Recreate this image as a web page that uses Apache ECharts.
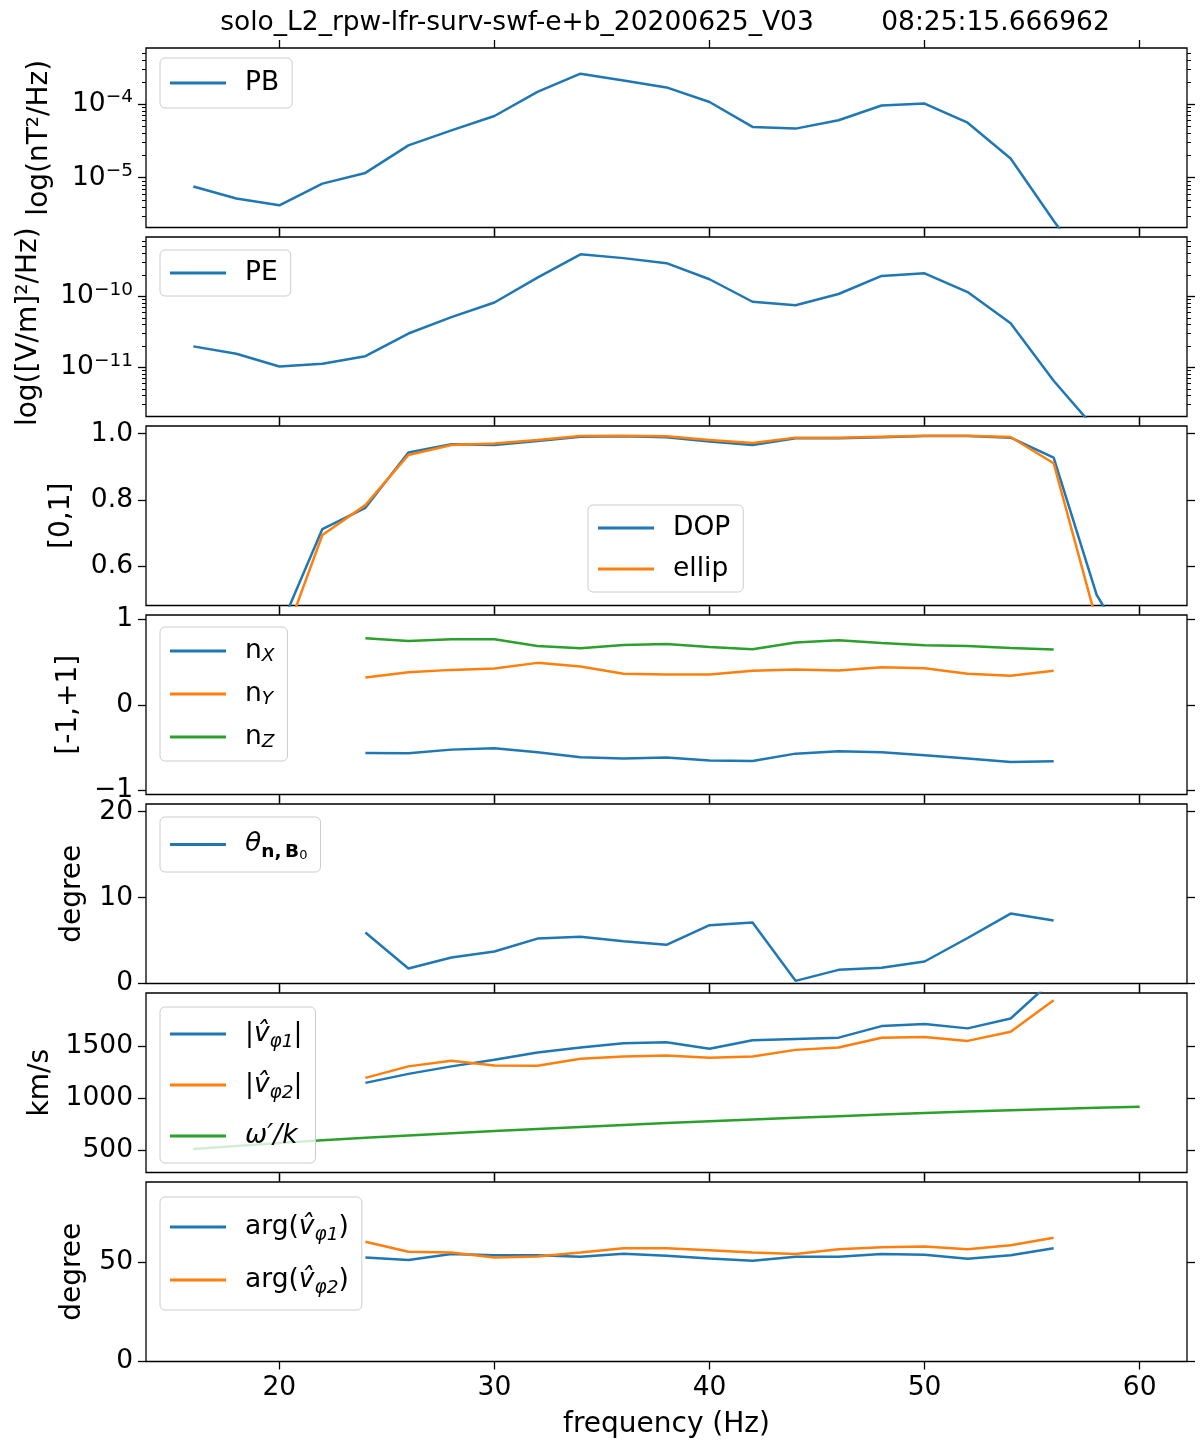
<!DOCTYPE html>
<html>
<head>
<meta charset="utf-8">
<script src="https://cdn.jsdelivr.net/npm/echarts@6/dist/echarts.min.js"></script>
<style>
  html, body { margin: 0; background: #fff; }
  #chart { width: 1200px; height: 1450px; }
</style>
</head>
<body>
<div id="chart"></div>
<script>
// frequency bins (Hz)
const freq = [16, 18, 20, 22, 24, 26, 28, 30, 32, 34, 36, 38, 40, 42, 44, 46, 48, 50, 52, 54, 56, 58, 60];
const freqFit = [24, 26, 28, 30, 32, 34, 36, 38, 40, 42, 44, 46, 48, 50, 52, 54, 56];

// spectra
const pbPower = [7.6e-6, 5.2e-6, 4.2e-6, 8.3e-6, 1.16e-5, 2.75e-5, 4.4e-5, 6.9e-5, 1.47e-4, 2.6e-4, 2.1e-4, 1.69e-4,
  1.07e-4, 4.9e-5, 4.65e-5, 6.05e-5, 9.6e-5, 1.02e-4, 5.6e-5, 1.82e-5, 2.6e-6, 4e-7, 2e-7];
const pePower = [1.98e-11, 1.56e-11, 1.03e-11, 1.13e-11, 1.44e-11, 3.0e-11, 5.1e-11, 8.2e-11, 1.83e-10, 3.9e-10, 3.45e-10,
  2.93e-10, 1.74e-10, 8.4e-11, 7.5e-11, 1.08e-10, 1.94e-10, 2.11e-10, 1.15e-10, 4.2e-11, 6.5e-12, 1.3e-12, 8e-13];

// polarisation
const dop = [0.3, 0.35, 0.41, 0.713, 0.777, 0.943, 0.968, 0.966, 0.978, 0.991, 0.992, 0.989, 0.976, 0.966, 0.986, 0.986,
  0.989, 0.993, 0.993, 0.988, 0.928, 0.515, 0.3];
const ellip = [0.25, 0.3, 0.342, 0.695, 0.785, 0.936, 0.966, 0.97, 0.981, 0.993, 0.994, 0.992, 0.981, 0.972, 0.988, 0.988,
  0.991, 0.994, 0.994, 0.99, 0.911, 0.435, 0.25];

// wave normal
const nX = [-0.564, -0.568, -0.525, -0.51, -0.556, -0.615, -0.63, -0.618, -0.653, -0.657, -0.572, -0.545, -0.556, -0.591, -0.63, -0.669, -0.661];
const nY = [0.319, 0.381, 0.408, 0.424, 0.49, 0.447, 0.362, 0.354, 0.354, 0.397, 0.412, 0.40, 0.44, 0.428, 0.362, 0.338, 0.397];
const nZ = [0.778, 0.747, 0.766, 0.766, 0.688, 0.661, 0.70, 0.712, 0.677, 0.65, 0.727, 0.755, 0.723, 0.696, 0.688, 0.665, 0.645];
const thetaNB = [5.93, 1.74, 3.02, 3.72, 5.23, 5.43, 4.93, 4.5, 6.79, 7.09, 0.31, 1.59, 1.83, 2.56, 5.3, 8.14, 7.33];

// phase velocities
const vPhi1 = [1149, 1235, 1307, 1370, 1440, 1487, 1529, 1538, 1475, 1557, 1570, 1582, 1693, 1712, 1671, 1766, 2140];
const vPhi2 = [1197, 1307, 1361, 1316, 1313, 1380, 1402, 1411, 1389, 1402, 1465, 1487, 1582, 1589, 1551, 1639, 1940];
const omegaK = [516, 545, 572, 598, 622, 645, 667, 688, 708, 727, 746, 764, 781, 798, 814, 830, 845, 860, 874, 886, 898, 910, 921];
const argV1 = [52.2, 50.9, 53.9, 53.3, 53.3, 52.5, 54.0, 53.0, 51.7, 50.5, 52.5, 52.5, 53.9, 53.5, 51.5, 53.3, 56.8];
const argV2 = [60.0, 55.0, 54.7, 52.2, 52.7, 54.7, 56.8, 56.8, 55.8, 54.7, 53.9, 56.3, 57.3, 57.6, 56.3, 58.3, 62.0];

// tick labels
const xTicks = [20, 30, 40, 50, 60];
const pbDecades = [-5, -4];
const peDecades = [-11, -10];
const dopTicks = [0.6, 0.8, 1.0];
const nTicks = [-1, 0, 1];
const thetaTicks = [0, 10, 20];
const vTicks = [500, 1000, 1500];
const argTicks = [0, 50];

const FONT = 'DejaVu Sans';
const FS = 26.5;
const FSS = 18.5;
const FN = 28;
const BLUE = '#1f77b4', ORANGE = '#ff7f0e', GREEN = '#2ca02c';

const tops = [48, 237, 426, 615, 804, 993, 1182];
const H = 179.5;

function minorLogs(lo, hi) {
  const out = [];
  for (let e = Math.floor(lo); e <= Math.ceil(hi); e++) {
    for (let k = 2; k <= 9; k++) {
      const v = e + Math.log10(k);
      if (v > lo && v < hi) out.push(v);
    }
  }
  return out;
}

const minus = v => (v < 0 ? '\u2212' + Math.abs(v) : String(v));
const expLabel = v => '{b|10}{s|\u2212' + Math.abs(Math.round(v)) + '}';

const panels = [
  { min: -5.678, max: -3.236, ticks: pbDecades, fmt: expLabel, log: true, name: 'log(nT\u00b2/Hz)', gap: 92 },
  { min: -11.69, max: -9.165, ticks: peDecades, fmt: expLabel, log: true, name: 'log([V/m]\u00b2/Hz)', gap: 103 },
  { min: 0.483, max: 1.023, ticks: dopTicks, fmt: v => v.toFixed(1), name: '[0,1]', gap: 70 },
  { min: -1.05, max: 1.05, ticks: nTicks, fmt: minus, name: '[-1,+1]', gap: 60 },
  { min: 0, max: 20.9, ticks: thetaTicks, fmt: minus, name: 'degree', gap: 59 },
  { min: 290, max: 2010, ticks: vTicks, fmt: minus, name: 'km/s', gap: 91 },
  { min: 0, max: 90, ticks: argTicks, fmt: minus, name: 'degree', gap: 59 }
];

const tickLine = { color: '#000', width: 1.3 };
const labelRich = {
  b: { fontSize: FS, fontFamily: FONT, color: '#000', lineHeight: 32 },
  s: { fontSize: FSS, fontFamily: FONT, color: '#000', lineHeight: 14, verticalAlign: 'top' }
};

const grid = [], xAxis = [], yAxis = [], yLeftIndex = [];

panels.forEach((p, i) => {
  const last = i === panels.length - 1;
  grid.push({ left: 146, width: 1041, top: tops[i], height: H, show: true, borderColor: '#000', borderWidth: 1.3 });

  ['bottom', 'top'].forEach(pos => {
    const withLabels = last && pos === 'bottom';
    xAxis.push({
      type: 'value', gridIndex: i, position: pos, min: 13.8, max: 62.2,
      axisLine: { show: false, onZero: false }, splitLine: { show: false },
      axisTick: { show: true, customValues: xTicks, length: 8, lineStyle: tickLine },
      axisLabel: { show: withLabels, customValues: xTicks, margin: 13, fontSize: FS, fontFamily: FONT, color: '#000' },
      name: withLabels ? 'frequency (Hz)' : '', nameLocation: 'middle', nameGap: 49,
      nameTextStyle: { fontSize: FN, fontFamily: FONT, color: '#000' }
    });
  });

  ['left', 'right'].forEach(pos => {
    const isLeft = pos === 'left';
    if (isLeft) yLeftIndex.push(yAxis.length);
    yAxis.push({
      type: 'value', gridIndex: i, position: pos, min: p.min, max: p.max,
      axisLine: { show: false, onZero: false }, splitLine: { show: false },
      axisTick: { show: true, customValues: p.ticks, length: 8, lineStyle: tickLine },
      axisLabel: {
        show: isLeft, customValues: p.ticks, margin: 13, formatter: p.fmt,
        fontSize: FS, fontFamily: FONT, color: '#000', rich: labelRich
      },
      name: isLeft ? p.name : '', nameLocation: 'middle', nameGap: p.gap,
      nameTextStyle: { fontSize: FN, fontFamily: FONT, color: '#000' }
    });
    if (p.log) {
      yAxis.push({
        type: 'value', gridIndex: i, position: pos, min: p.min, max: p.max,
        axisLine: { show: false, onZero: false }, splitLine: { show: false },
        axisTick: { show: true, customValues: minorLogs(p.min, p.max), length: 4, lineStyle: { color: '#000', width: 1 } },
        axisLabel: { show: false }
      });
    }
  });
});

function line(name, panel, xs, ys, color, tf) {
  return {
    name, type: 'line', xAxisIndex: panel * 2, yAxisIndex: yLeftIndex[panel],
    data: xs.map((x, k) => [x, tf ? tf(ys[k]) : ys[k]]),
    showSymbol: false, symbol: 'none', clip: true,
    lineStyle: { color, width: 2.5 }, itemStyle: { color },
    emphasis: { disabled: true }
  };
}

const series = [
  line('PB', 0, freq, pbPower, BLUE, Math.log10),
  line('PE', 1, freq, pePower, BLUE, Math.log10),
  line('DOP', 2, freq, dop, BLUE),
  line('ellip', 2, freq, ellip, ORANGE),
  line('nX', 3, freqFit, nX, BLUE),
  line('nY', 3, freqFit, nY, ORANGE),
  line('nZ', 3, freqFit, nZ, GREEN),
  line('theta', 4, freqFit, thetaNB, BLUE),
  line('v1', 5, freqFit, vPhi1, BLUE),
  line('v2', 5, freqFit, vPhi2, ORANGE),
  line('wk', 5, freq, omegaK, GREEN),
  line('a1', 6, freqFit, argV1, BLUE),
  line('a2', 6, freqFit, argV2, ORANGE)
];

const legendText = {
  PB: 'PB', PE: 'PE', DOP: 'DOP', ellip: 'ellip',
  nX: 'n{sub|X}', nY: 'n{sub|Y}', nZ: 'n{sub|Z}',
  theta: '{it|\u03b8}{sbb|n,\u2009B}{sub0|0}',
  v1: '|{it|v\u0302}{sub|\u03c61}|', v2: '|{it|v\u0302}{sub|\u03c62}|',
  wk: '{it|\u03c9\u2032/k}',
  a1: 'arg({it|v\u0302}{sub|\u03c61})', a2: 'arg({it|v\u0302}{sub|\u03c62})'
};

const legendRich = {
  it: { fontSize: FS, fontFamily: FONT, fontStyle: 'italic', color: '#000' },
  sub: { fontSize: FSS, fontFamily: FONT, fontStyle: 'italic', color: '#000', lineHeight: 18, verticalAlign: 'bottom' },
  sbb: { fontSize: FSS, fontFamily: FONT, fontWeight: 'bold', color: '#000', lineHeight: 18, verticalAlign: 'bottom' },
  sub0: { fontSize: 13, fontFamily: FONT, color: '#000', lineHeight: 11, verticalAlign: 'bottom' }
};

function legend(names, left, top, pad, lineH, gap) {
  return {
    data: names, orient: 'vertical', left, top,
    padding: [pad, 13, pad, 10], itemGap: gap,
    itemWidth: 56, itemHeight: 3, icon: 'rect', selectedMode: false,
    backgroundColor: 'rgba(255,255,255,0.8)', borderColor: '#cccccc', borderWidth: 1, borderRadius: 5,
    formatter: n => legendText[n],
    textStyle: { fontSize: FS, fontFamily: FONT, color: '#000', lineHeight: lineH, padding: [0, 0, 0, 14], rich: legendRich }
  };
}

const option = {
  animation: false,
  backgroundColor: '#fff',
  textStyle: { fontFamily: FONT },
  title: {
    text: 'solo_L2_rpw-lfr-surv-swf-e+b_20200625_V03        08:25:15.666962',
    left: 665, top: 10, textAlign: 'center', padding: 0,
    textStyle: { fontSize: FS, fontWeight: 'normal', fontFamily: FONT, color: '#000' }
  },
  legend: [
    legend(['PB'], 160, 58, 10, 30, 10),
    legend(['PE'], 160, 250, 8, 30, 10),
    legend(['DOP', 'ellip'], 588, 505, 8, 30, 11),
    legend(['nX', 'nY', 'nZ'], 160, 627, 9, 30, 13),
    legend(['theta'], 160, 817, 10, 35, 10),
    legend(['v1', 'v2', 'wk'], 160, 1007, 9, 36, 15),
    legend(['a1', 'a2'], 160, 1197, 12, 36, 17)
  ],
  grid, xAxis, yAxis, series
};

const chart = echarts.init(document.getElementById('chart'));
chart.setOption(option);
</script>
</body>
</html>
